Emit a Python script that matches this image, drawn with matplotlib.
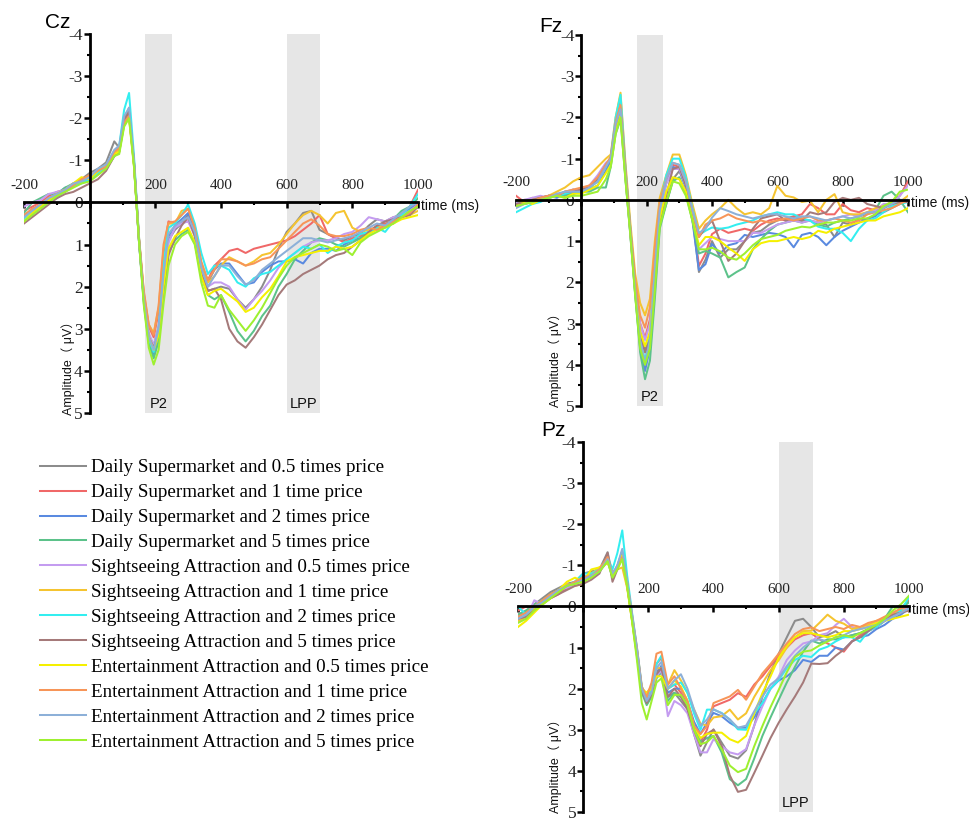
import matplotlib
matplotlib.use("Agg")
import matplotlib.pyplot as plt
from matplotlib.ticker import FixedLocator, FixedFormatter, MultipleLocator

plt.rcParams['axes.unicode_minus'] = False

# ---------------- data ----------------
times = [-200, -175, -150, -125, -100, -75, -50, -25, 0, 25, 50, 75,
         90, 105, 120, 135, 150, 165, 180, 195, 210, 225, 240,
         260, 280, 300, 320, 340, 360, 380, 400,
         425, 450, 475, 500, 525, 550, 575, 600, 625, 650, 675, 700,
         725, 750, 775, 800, 825, 850, 875, 900, 925, 950, 975, 1000]

labels = ["Daily Supermarket and 0.5 times price",
          "Daily Supermarket and 1 time price",
          "Daily Supermarket and 2 times price",
          "Daily Supermarket and 5 times price",
          "Sightseeing Attraction and 0.5 times price",
          "Sightseeing Attraction and 1 time price",
          "Sightseeing Attraction and 2 times price",
          "Sightseeing Attraction and 5 times price",
          "Entertainment Attraction and 0.5 times price",
          "Entertainment Attraction and 1 time price",
          "Entertainment Attraction and 2 times price",
          "Entertainment Attraction and 5 times price"]

colors = ['#8c8c8c', '#f06868', '#5a8ae0', '#5cc28a', '#c49cf0', '#f5c430',
          '#33eef0', '#a57a7a', '#f5f000', '#f79558', '#8db0d8', '#9ef030']

# ---- Cz ----
cz_ds05 = [0.35, 0.15, 0.1, -0.1, -0.2, -0.25, -0.4, -0.55, -0.7, -0.8, -0.95, -1.45,
           -1.3, -1.95, -2.25, -0.9, 0.9, 2.3, 3.15, 3.4, 2.95, 1.85, 0.9,
           0.65, 0.5, 0.3, 0.75, 1.55, 2.1, 2.05, 2.0,
           2.05, 2.3, 2.5, 2.3, 2.0, 1.6, 1.1, 0.7, 0.5, 0.25, 0.2, 0.65, 0.75, 0.85, 0.9, 0.8, 0.75, 0.55, 0.4, 0.45, 0.35, 0.3, 0.15, 0.05]
cz_ds1 = [0.2, 0.1, 0.0, -0.15, -0.25, -0.3, -0.45, -0.55, -0.6, -0.7, -0.85, -1.15,
          -1.25, -1.9, -2.05, -0.9, 0.85, 2.2, 2.95, 3.2, 2.6, 1.2, 0.45,
          0.5, 0.45, 0.45, 0.7, 1.5, 1.85, 1.5, 1.35,
          1.15, 1.1, 1.2, 1.1, 1.05, 1.0, 0.95, 0.9, 0.8, 0.65, 0.5, 0.3, 0.75, 0.85, 0.95, 0.85, 0.8, 0.7, 0.55, 0.5, 0.45, 0.3, 0.1, -0.3]
cz_ds2 = [0.3, 0.2, 0.1, -0.05, -0.2, -0.35, -0.4, -0.5, -0.55, -0.7, -0.8, -1.15,
          -1.25, -1.9, -2.1, -0.95, 0.9, 2.35, 3.3, 3.6, 3.1, 1.8, 0.8,
          0.55, 0.4, 0.25, 0.7, 1.5, 1.9, 1.6, 1.45,
          1.45, 1.7, 1.95, 1.9, 1.65, 1.5, 1.4, 1.4, 1.35, 1.45, 1.2, 1.1, 1.1, 1.15, 1.0, 0.9, 0.85, 0.75, 0.6, 0.55, 0.45, 0.25, 0.15, 0.0]
cz_ds5 = [0.25, 0.0, -0.1, -0.2, -0.2, -0.35, -0.45, -0.5, -0.6, -0.75, -0.8, -1.1,
          -1.2, -1.85, -2.05, -0.9, 0.9, 2.4, 3.35, 3.7, 3.3, 2.2, 1.2,
          0.9, 0.75, 0.65, 0.95, 1.75, 2.2, 2.3, 2.2,
          2.6, 3.05, 3.3, 3.05, 2.7, 2.45, 2.0, 1.7, 1.35, 1.15, 0.95, 0.85, 0.9, 1.0, 1.05, 0.95, 0.85, 0.7, 0.6, 0.55, 0.4, 0.2, 0.1, -0.1]
cz_sa05 = [0.1, 0.0, -0.05, -0.2, -0.25, -0.3, -0.45, -0.5, -0.6, -0.7, -0.85, -1.15,
           -1.3, -1.95, -2.1, -0.9, 0.9, 2.3, 3.1, 3.4, 2.95, 1.8, 0.95,
           0.6, 0.5, 0.45, 0.8, 1.6, 2.0, 1.9, 1.9,
           2.0, 2.3, 2.55, 2.3, 2.1, 1.85, 1.55, 1.35, 1.2, 1.05, 0.95, 0.9, 0.9, 0.85, 0.75, 0.7, 0.55, 0.35, 0.4, 0.45, 0.35, 0.3, 0.2, 0.05]
cz_sa1 = [0.35, 0.2, 0.05, -0.1, -0.2, -0.3, -0.4, -0.5, -0.6, -0.75, -0.85, -1.15,
          -1.25, -1.95, -2.1, -0.95, 0.85, 2.15, 2.9, 3.1, 2.5, 1.1, 0.5,
          0.5, 0.2, 0.15, 0.55, 1.45, 1.9, 1.75, 1.5,
          1.3, 1.4, 1.5, 1.4, 1.25, 1.2, 1.0, 0.75, 0.5, 0.3, 0.2, 0.3, 0.5, 0.25, 0.2, 0.6, 0.7, 0.65, 0.6, 0.55, 0.5, 0.35, 0.3, 0.2]
cz_sa2 = [0.4, 0.25, 0.1, -0.05, -0.1, -0.3, -0.4, -0.45, -0.55, -0.7, -0.85, -1.2,
          -1.35, -2.2, -2.6, -1.1, 0.8, 2.3, 3.25, 3.55, 3.0, 1.5, 0.6,
          0.5, 0.3, 0.05, 0.5, 1.2, 1.7, 1.5, 1.5,
          1.6, 1.9, 2.0, 1.8, 1.7, 1.65, 1.5, 1.35, 1.2, 1.05, 1.1, 1.0, 1.2, 1.05, 0.95, 0.9, 0.75, 0.7, 0.6, 0.7, 0.45, 0.3, 0.1, -0.2]
cz_sa5 = [0.5, 0.35, 0.2, 0.05, -0.1, -0.2, -0.25, -0.35, -0.45, -0.55, -0.75, -1.1,
          -1.2, -1.95, -2.15, -0.95, 0.85, 2.3, 3.2, 3.45, 3.1, 2.1, 1.25,
          0.85, 0.55, 0.35, 0.8, 1.7, 2.1, 2.05, 2.3,
          3.0, 3.3, 3.45, 3.2, 2.9, 2.55, 2.2, 1.95, 1.85, 1.7, 1.6, 1.5, 1.35, 1.25, 1.2, 1.05, 0.9, 0.7, 0.55, 0.45, 0.4, 0.35, 0.3, 0.1]
cz_ea05 = [0.45, 0.25, 0.1, -0.05, -0.2, -0.3, -0.45, -0.6, -0.55, -0.75, -0.9, -1.15,
           -1.2, -1.85, -2.0, -0.85, 0.85, 2.25, 3.2, 3.5, 3.15, 2.0, 1.1,
           0.8, 0.7, 0.6, 0.95, 1.75, 2.2, 2.1, 2.05,
           2.2, 2.35, 2.6, 2.5, 2.25, 2.05, 1.75, 1.4, 1.3, 1.25, 1.2, 1.15, 1.15, 1.05, 1.1, 1.05, 0.9, 0.75, 0.65, 0.6, 0.5, 0.4, 0.35, 0.3]
cz_ea1 = [0.3, 0.15, 0.05, -0.1, -0.2, -0.3, -0.4, -0.55, -0.65, -0.75, -0.85, -1.2,
          -1.3, -1.9, -2.05, -0.95, 0.8, 2.1, 2.9, 3.15, 2.45, 1.0, 0.48,
          0.45, 0.3, 0.15, 0.6, 1.4, 1.85, 1.6, 1.35,
          1.35, 1.4, 1.5, 1.45, 1.35, 1.3, 1.1, 0.9, 0.7, 0.5, 0.4, 0.55, 0.75, 0.8, 0.8, 0.75, 0.65, 0.6, 0.65, 0.55, 0.45, 0.35, 0.25, 0.05]
cz_ea2 = [0.35, 0.2, 0.05, -0.1, -0.2, -0.3, -0.45, -0.5, -0.6, -0.8, -0.9, -1.25,
          -1.35, -2.05, -2.25, -1.0, 0.85, 2.3, 3.2, 3.5, 3.0, 1.7, 0.75,
          0.55, 0.45, 0.35, 0.7, 1.55, 2.0, 1.75, 1.5,
          1.5, 1.75, 1.95, 1.85, 1.6, 1.45, 1.3, 1.15, 1.0, 0.85, 0.85, 0.9, 0.95, 0.9, 0.85, 0.8, 0.7, 0.6, 0.5, 0.55, 0.4, 0.25, 0.1, 0.0]
cz_ea5 = [0.45, 0.3, 0.15, 0.0, -0.15, -0.25, -0.35, -0.45, -0.5, -0.65, -0.8, -1.1,
          -1.15, -1.8, -2.0, -0.85, 0.9, 2.45, 3.45, 3.85, 3.5, 2.4, 1.5,
          1.0, 0.8, 0.7, 1.0, 1.9, 2.45, 2.5, 2.2,
          2.55, 2.8, 3.05, 2.8, 2.5, 2.15, 1.8, 1.5, 1.3, 1.2, 1.1, 1.0, 1.05, 1.15, 1.1, 1.25, 0.95, 0.8, 0.7, 0.6, 0.5, 0.35, 0.2, 0.1]

# ---- Fz ----
fz_ds05 = [0.1, 0.0, 0.0, -0.05, -0.1, -0.1, -0.15, -0.25, -0.2, -0.3, -0.45, -0.8,
           -0.9, -1.8, -2.25, -0.7, 0.75, 2.1, 3.2, 3.65, 3.35, 2.0, 0.6,
           0.1, -0.5, -0.7, -0.3, 0.4, 1.75, 1.45, 1.0,
           1.4, 1.2, 1.2, 1.0, 0.8, 0.75, 0.6, 0.5, 0.45, 0.4, 0.5, 0.5, 0.55, 0.6, 0.9, 0.55, 0.6, 0.45, 0.5, 0.35, 0.3, 0.2, 0.1, 0.0]
fz_ds1 = [-0.1, 0.05, -0.05, 0.0, -0.05, -0.15, -0.1, -0.2, -0.25, -0.35, -0.5, -0.8,
          -1.0, -1.9, -2.4, -0.75, 0.7, 2.0, 3.0, 3.35, 2.9, 1.5, 0.2,
          -0.45, -0.85, -0.8, -0.35, 0.35, 1.6, 1.3, 0.83,
          0.7, 0.8, 0.75, 0.7, 0.75, 0.6, 0.5, 0.45, 0.5, 0.4, 0.35, 0.1, 0.2, 0.35, 0.35, 0.1, 0.25, 0.3, 0.2, 0.25, 0.15, 0.05, -0.1, -0.45]
fz_ds2 = [0.05, 0.1, 0.0, -0.05, -0.1, -0.05, -0.15, -0.15, -0.2, -0.25, -0.35, -0.7,
          -0.95, -1.7, -2.1, -0.55, 0.85, 2.3, 3.55, 4.15, 3.6, 1.9, 0.35,
          -0.4, -0.8, -0.75, -0.3, 0.5, 1.7, 1.56, 1.07,
          1.3, 1.1, 1.05, 0.85, 0.9, 0.85, 0.8, 0.83, 0.9, 1.15, 0.85, 0.8, 0.9, 1.1, 0.9, 0.75, 0.65, 0.55, 0.45, 0.4, 0.2, 0.1, 0.05, 0.0]
fz_ds5 = [0.0, 0.1, 0.05, 0.0, -0.05, -0.1, -0.1, -0.15, -0.2, -0.2, -0.3, -0.3,
          -0.8, -1.6, -1.95, -0.5, 0.8, 2.3, 3.7, 4.35, 3.9, 2.4, 0.7,
          0.1, -0.45, -0.55, -0.15, 0.5, 1.3, 1.24, 1.3,
          1.4, 1.88, 1.75, 1.64, 1.2, 0.95, 0.75, 0.6, 0.55, 0.5, 0.55, 0.5, 0.6, 0.65, 0.55, 0.5, 0.45, 0.4, 0.35, 0.25, -0.1, -0.2, 0.0, 0.3]
fz_sa05 = [0.05, 0.0, -0.05, -0.1, -0.05, -0.1, -0.2, -0.25, -0.2, -0.35, -0.6, -0.9,
           -1.0, -1.8, -2.3, -0.7, 0.75, 2.1, 3.0, 3.4, 3.0, 1.6, 0.3,
           -0.4, -0.75, -0.75, -0.35, 0.4, 1.2, 1.05, 0.9,
           0.95, 1.0, 1.0, 1.0, 0.8, 0.8, 0.7, 0.6, 0.55, 0.5, 0.55, 0.5, 0.55, 0.5, 0.45, 0.4, 0.35, 0.4, 0.3, 0.25, 0.1, 0.1, -0.1, -0.35]
fz_sa1 = [0.15, 0.05, 0.0, -0.05, -0.1, -0.2, -0.3, -0.45, -0.55, -0.6, -0.8, -1.0,
          -1.1, -2.0, -2.6, -0.9, 0.55, 1.8, 2.5, 2.8, 2.4, 1.0, -0.05,
          -0.6, -1.1, -1.1, -0.6, 0.1, 0.7, 0.5, 0.35,
          0.2, 0.0, 0.2, 0.35, 0.3, 0.35, 0.2, -0.34, -0.1, -0.06, 0.05, 0.02, 0.3, 0.0, -0.14, 0.3, 0.35, 0.35, 0.3, 0.2, 0.15, 0.1, 0.05, -0.1]
fz_sa2 = [0.3, 0.2, 0.1, 0.05, -0.05, -0.1, -0.15, -0.2, -0.2, -0.3, -0.45, -0.8,
          -1.05, -2.0, -2.55, -0.8, 0.7, 2.1, 3.4, 3.9, 3.3, 1.5, 0.1,
          -0.6, -1.0, -1.0, -0.55, 0.2, 0.85, 0.75, 0.67,
          0.7, 0.67, 0.6, 0.55, 0.5, 0.4, 0.35, 0.3, 0.35, 0.35, 0.45, 0.5, 0.65, 0.7, 0.7, 0.8, 1.0, 0.7, 0.5, 0.45, 0.3, 0.15, 0.1, 0.05]
fz_sa5 = [0.1, 0.05, 0.0, -0.05, -0.1, -0.1, -0.2, -0.2, -0.25, -0.3, -0.5, -0.85,
          -1.0, -1.85, -2.2, -0.65, 0.75, 2.1, 3.25, 3.7, 3.4, 2.0, 0.5,
          -0.1, -0.75, -0.8, -0.35, 0.4, 0.9, 0.68, 0.5,
          1.0, 1.48, 1.3, 1.0, 0.7, 0.45, 0.4, 0.35, 0.5, 0.45, 0.5, 0.3, 0.35, 0.3, 0.05, -0.05, 0.0, -0.05, 0.1, 0.15, 0.2, 0.1, 0.05, 0.05]
fz_ea05 = [0.0, 0.05, 0.1, 0.0, -0.05, -0.1, -0.05, -0.15, -0.15, -0.25, -0.35, -0.65,
           -0.85, -1.65, -2.05, -0.55, 0.8, 2.2, 3.2, 3.55, 3.2, 1.8, 0.45,
           -0.2, -0.55, -0.5, -0.2, 0.45, 1.1, 0.9, 0.9,
           1.0, 1.16, 1.3, 1.48, 1.2, 1.05, 1.0, 1.0, 0.95, 0.9, 0.95, 0.9, 0.75, 0.8, 0.7, 0.65, 0.6, 0.55, 0.5, 0.5, 0.4, 0.35, 0.3, 0.2]
fz_ea1 = [0.15, 0.1, 0.05, -0.05, -0.1, -0.1, -0.2, -0.25, -0.3, -0.35, -0.55, -0.85,
          -1.05, -1.9, -2.3, -0.75, 0.7, 1.95, 2.8, 3.1, 2.6, 1.15, 0.05,
          -0.5, -0.9, -0.85, -0.45, 0.25, 0.9, 0.6, 0.5,
          0.45, 0.35, 0.45, 0.5, 0.55, 0.5, 0.55, 0.5, 0.45, 0.5, 0.45, 0.4, 0.5, 0.5, 0.45, 0.5, 0.55, 0.5, 0.35, 0.3, 0.25, 0.2, 0.1, 0.0]
fz_ea2 = [0.2, 0.1, 0.05, 0.0, -0.05, -0.15, -0.2, -0.2, -0.2, -0.3, -0.45, -0.8,
          -1.0, -1.85, -2.2, -0.6, 0.8, 2.2, 3.4, 3.95, 3.4, 1.7, 0.25,
          -0.5, -0.9, -0.85, -0.45, 0.25, 0.8, 0.7, 0.43,
          0.2, 0.27, 0.35, 0.4, 0.45, 0.4, 0.35, 0.35, 0.4, 0.45, 0.4, 0.4, 0.45, 0.5, 0.45, 0.4, 0.45, 0.4, 0.3, 0.3, 0.2, 0.1, 0.0, 0.0]
fz_ea5 = [0.15, 0.1, 0.05, 0.0, -0.05, -0.1, -0.05, -0.1, -0.1, -0.15, -0.2, -0.5,
          -0.8, -1.6, -2.0, -0.5, 0.85, 2.35, 3.6, 4.0, 3.6, 2.2, 0.65,
          0.05, -0.45, -0.4, -0.1, 0.5, 1.2, 1.2, 1.16,
          1.25, 1.4, 1.45, 1.3, 1.1, 0.95, 0.9, 0.85, 0.75, 0.7, 0.65, 0.67, 0.6, 0.55, 0.55, 0.5, 0.5, 0.45, 0.45, 0.35, 0.15, 0.05, -0.2, -0.25]

# ---- Pz ----
pz_ds05 = [0.2, 0.1, -0.05, -0.2, -0.35, -0.45, -0.55, -0.6, -0.8, -0.85, -0.9, -1.32,
           -0.75, -1.0, -1.35, -0.55, 0.3, 1.15, 2.05, 2.3, 2.15, 1.6, 1.45,
           2.2, 2.1, 2.3, 2.5, 3.1, 3.63, 3.3, 2.99,
           3.31, 3.63, 3.7, 3.5, 2.9, 2.2, 1.6, 1.15, 0.75, 0.35, 0.3, 0.5, 0.75, 0.7, 0.6, 0.75, 0.7, 0.65, 0.55, 0.5, 0.35, 0.2, 0.15, 0.05]
pz_ds1 = [0.1, 0.0, 0.05, -0.15, -0.2, -0.3, -0.45, -0.6, -0.75, -0.7, -0.85, -1.15,
          -0.75, -0.95, -1.2, -0.5, 0.3, 1.1, 2.0, 2.25, 2.0, 1.4, 1.25,
          2.0, 1.9, 2.1, 2.4, 3.0, 3.3, 3.0, 2.43,
          2.35, 2.27, 2.11, 2.2, 1.9, 1.7, 1.45, 1.2, 1.0, 0.8, 0.7, 0.65, 0.8, 0.9, 1.0, 1.1, 0.85, 0.7, 0.6, 0.5, 0.35, 0.2, 0.05, -0.15]
pz_ds2 = [0.25, 0.15, 0.05, -0.1, -0.25, -0.35, -0.5, -0.55, -0.7, -0.8, -0.85, -1.2,
          -0.8, -0.95, -1.25, -0.55, 0.25, 1.05, 2.0, 2.35, 2.2, 1.65, 1.45,
          2.1, 2.0, 2.0, 2.3, 2.8, 3.1, 2.83, 2.59,
          2.67, 2.83, 2.95, 2.95, 2.7, 2.35, 2.0, 1.8, 1.7, 1.55, 1.3, 1.35, 1.2, 1.2, 1.0, 1.05, 0.85, 0.75, 0.7, 0.55, 0.45, 0.3, 0.2, 0.05]
pz_ds5 = [0.2, 0.1, -0.05, -0.15, -0.3, -0.4, -0.5, -0.6, -0.65, -0.75, -0.85, -1.1,
          -0.7, -0.95, -1.2, -0.5, 0.3, 1.15, 2.1, 2.4, 2.2, 1.75, 1.6,
          2.3, 2.1, 2.2, 2.4, 2.9, 3.3, 3.2, 3.15,
          3.55, 4.2, 4.35, 4.2, 3.7, 3.15, 2.7, 2.27, 1.85, 1.47, 1.1, 0.83, 0.9, 0.8, 0.8, 0.75, 0.7, 0.65, 0.55, 0.45, 0.3, 0.0, 0.05, -0.1]
pz_sa05 = [0.35, 0.3, -0.15, -0.05, -0.25, -0.4, -0.45, -0.55, -0.7, -0.8, -0.9, -1.1,
           -0.75, -0.95, -1.2, -0.5, 0.25, 1.05, 2.0, 2.3, 2.1, 1.7, 1.55,
           2.67, 2.3, 2.4, 2.6, 3.1, 3.55, 3.55, 3.23,
           3.39, 3.55, 3.6, 3.47, 2.9, 2.43, 2.0, 1.71, 1.3, 1.07, 0.9, 0.85, 0.7, 0.65, 0.45, 0.3, 0.5, 0.55, 0.5, 0.4, 0.3, 0.2, 0.1, 0.0]
pz_sa1 = [0.35, 0.25, 0.05, -0.1, -0.2, -0.35, -0.55, -0.5, -0.55, -0.8, -0.95, -1.05,
          -0.85, -0.9, -0.95, -0.45, 0.35, 1.2, 2.05, 2.1, 1.95, 1.5, 1.5,
          1.9, 1.55, 1.8, 2.1, 2.5, 2.85, 2.9, 2.7,
          2.67, 2.51, 2.75, 2.6, 2.2, 1.87, 1.55, 1.31, 1.0, 0.75, 0.6, 0.59, 0.4, 0.2, 0.35, 0.42, 0.55, 0.5, 0.45, 0.35, 0.3, 0.2, 0.1, 0.1]
pz_sa2 = [0.0, 0.2, 0.0, -0.15, -0.25, -0.4, -0.5, -0.6, -0.8, -0.8, -0.9, -1.2,
          -0.9, -1.3, -1.85, -0.75, 0.15, 1.0, 1.95, 2.2, 2.0, 1.4, 1.2,
          2.0, 1.9, 1.85, 2.1, 2.6, 3.0, 2.51, 2.51,
          2.59, 2.75, 2.99, 3.0, 2.6, 2.35, 2.0, 1.79, 1.5, 1.3, 1.2, 1.23, 1.05, 0.98, 0.85, 0.75, 0.75, 0.86, 0.6, 0.5, 0.35, 0.25, 0.1, -0.22]
pz_sa5 = [0.3, 0.25, 0.1, -0.05, -0.2, -0.3, -0.4, -0.5, -0.55, -0.65, -0.8, -1.3,
          -0.6, -0.9, -1.3, -0.55, 0.3, 1.1, 2.05, 2.35, 2.15, 1.65, 1.5,
          2.2, 2.0, 2.2, 2.5, 3.0, 3.4, 3.1, 3.0,
          3.39, 4.11, 4.51, 4.46, 4.05, 3.63, 3.2, 2.83, 2.5, 2.19, 1.85, 1.39, 1.4, 1.38, 1.2, 1.05, 0.85, 0.75, 0.6, 0.45, 0.35, 0.2, 0.15, 0.1]
pz_ea05 = [0.5, 0.35, 0.15, -0.05, -0.2, -0.4, -0.6, -0.7, -0.6, -0.9, -0.95, -1.1,
           -0.75, -0.95, -1.25, -0.5, 0.35, 1.2, 2.0, 2.1, 2.0, 1.7, 1.7,
           2.0, 1.8, 1.95, 2.3, 2.9, 3.2, 3.1, 3.07,
           3.07, 3.23, 3.31, 3.15, 2.6, 2.11, 1.7, 1.25, 0.95, 0.75, 0.65, 0.65, 0.7, 0.75, 0.7, 0.6, 0.6, 0.55, 0.5, 0.4, 0.35, 0.3, 0.25, 0.2]
pz_ea1 = [0.25, 0.15, 0.0, -0.15, -0.3, -0.4, -0.5, -0.6, -0.7, -0.75, -0.9, -1.2,
          -0.8, -0.95, -1.2, -0.6, 0.2, 1.0, 1.95, 2.2, 1.85, 1.15, 1.1,
          1.9, 1.7, 2.0, 2.3, 2.9, 3.1, 2.91, 2.35,
          2.27, 2.19, 2.03, 2.27, 1.95, 1.63, 1.4, 1.15, 0.9, 0.67, 0.55, 0.51, 0.6, 0.55, 0.5, 0.55, 0.45, 0.5, 0.4, 0.35, 0.25, 0.15, 0.05, 0.0]
pz_ea2 = [0.3, 0.2, 0.0, -0.1, -0.25, -0.4, -0.5, -0.55, -0.65, -0.75, -0.85, -1.15,
          -0.8, -1.0, -1.4, -0.6, 0.2, 1.05, 2.0, 2.3, 2.1, 1.5, 1.35,
          2.0, 1.8, 1.65, 2.0, 2.5, 2.9, 2.75, 2.5,
          2.6, 2.75, 2.95, 2.9, 2.55, 2.2, 1.9, 1.75, 1.45, 1.2, 1.0, 0.85, 0.8, 0.85, 0.75, 0.7, 0.6, 0.55, 0.5, 0.45, 0.35, 0.25, 0.15, 0.05]
pz_ea5 = [0.4, 0.3, 0.1, -0.05, -0.2, -0.35, -0.5, -0.55, -0.6, -0.7, -0.85, -1.1,
          -0.7, -0.9, -1.15, -0.5, 0.35, 1.3, 2.35, 2.75, 2.3, 1.85, 1.75,
          2.4, 2.15, 2.15, 2.4, 3.0, 3.35, 3.3, 3.15,
          3.47, 3.87, 4.03, 3.95, 3.4, 2.91, 2.45, 2.03, 1.6, 1.23, 1.1, 1.07, 0.95, 0.85, 0.75, 0.7, 0.75, 0.65, 0.55, 0.45, 0.3, 0.1, -0.05, -0.26]

cz_series = [cz_ds05, cz_ds1, cz_ds2, cz_ds5, cz_sa05, cz_sa1, cz_sa2, cz_sa5,
             cz_ea05, cz_ea1, cz_ea2, cz_ea5]
fz_series = [fz_ds05, fz_ds1, fz_ds2, fz_ds5, fz_sa05, fz_sa1, fz_sa2, fz_sa5,
             fz_ea05, fz_ea1, fz_ea2, fz_ea5]
pz_series = [pz_ds05, pz_ds1, pz_ds2, pz_ds5, pz_sa05, pz_sa1, pz_sa2, pz_sa5,
             pz_ea05, pz_ea1, pz_ea2, pz_ea5]

x_major = [-200, 0, 200, 400, 600, 800, 1000]
x_major_labels = ['-200', '', '200', '400', '600', '800', '1000']
y_major = [-4, -3, -2, -1, 0, 1, 2, 3, 4, 5]
y_major_labels = ['-4', '-3', '-2', '-1', '0', '1', '2', '3', '4', '5']

# ---------------- figure ----------------
W, H = 970, 821
fig = plt.figure(figsize=(W / 100, H / 100), dpi=100)

SERIF = 'Liberation Serif'
SANS = 'Liberation Sans'


def px_axes(left, right, top, bottom):
    return fig.add_axes([left / W, 1 - bottom / H, (right - left) / W, (bottom - top) / H])


def setup(ax, series, bands):
    ax.patch.set_alpha(0)
    for (x0, x1, txt) in bands:
        ax.axvspan(x0, x1, color='#e6e6e6', lw=0, zorder=0)
        ax.text((x0 + x1) / 2, 4.78, txt, ha='center', va='center',
                fontsize=10.5, family=SANS, color='#111111', zorder=1)
    lines = []
    for vals, col in zip(series, colors):
        ln, = ax.plot(times, vals, color=col, lw=1.45, zorder=2, solid_joinstyle='round')
        lines.append(ln)
    ax.set_xlim(-200, 1000)
    ax.set_ylim(5, -4)
    for s in ['right', 'bottom']:
        ax.spines[s].set_visible(False)
    ax.spines['left'].set_position(('data', 0))
    ax.spines['top'].set_position(('data', 0))
    ax.spines['left'].set_linewidth(2.0)
    ax.spines['top'].set_linewidth(2.0)
    ax.spines['left'].set_zorder(3)
    ax.spines['top'].set_zorder(3)
    ax.xaxis.set_ticks_position('top')
    ax.xaxis.set_major_locator(FixedLocator(x_major))
    ax.xaxis.set_major_formatter(FixedFormatter(x_major_labels))
    ax.xaxis.set_minor_locator(MultipleLocator(100))
    ax.tick_params(axis='x', which='both', direction='in', top=True, bottom=False,
                   labeltop=True, labelbottom=False, pad=7.5, labelsize=11,
                   labelcolor='#222222', labelfontfamily=SERIF)
    ax.tick_params(axis='x', which='major', length=4.5, width=1.8)
    ax.tick_params(axis='x', which='minor', length=2.5, width=1.5)
    ax.yaxis.set_major_locator(FixedLocator(y_major))
    ax.yaxis.set_major_formatter(FixedFormatter(y_major_labels))
    ax.yaxis.set_minor_locator(MultipleLocator(0.5))
    ax.tick_params(axis='y', which='both', direction='out', left=True, right=False,
                   labelsize=12.5, labelcolor='#222222', labelfontfamily=SERIF)
    ax.tick_params(axis='y', which='major', length=4.5, width=1.8, pad=0.5)
    ax.tick_params(axis='y', which='minor', length=2.5, width=1.5)
    ax.text(1008, 0.08, 'time (ms)', ha='left', va='center', fontsize=10,
            family=SANS, color='#111111', clip_on=False)
    return lines


ax_cz = px_axes(24, 418, 34, 413)
cz_lines = setup(ax_cz, cz_series, [(170, 250, 'P2'), (600, 700, 'LPP')])
ax_fz = px_axes(516, 908, 35, 406)
setup(ax_fz, fz_series, [(170, 250, 'P2')])
ax_pz = px_axes(518, 909, 442, 812)
setup(ax_pz, pz_series, [(600, 705, 'LPP')])

# titles
for (xp, yp, t) in [(45, 28, 'Cz'), (539, 32, 'Fz'), (541, 436, 'Pz')]:
    fig.text(xp / W, 1 - yp / H, t, ha='left', va='baseline', fontsize=15,
             family=SANS, color='black')

# y labels
for (xp, yp) in [(68, 415), (555, 407), (555, 813)]:
    fig.text(xp / W, 1 - yp / H, 'Amplitude（ μV）', rotation=90, ha='center',
             va='bottom', fontsize=9, family=[SANS, 'Noto Sans CJK SC'], color='#111111')

# legend
fig.legend(cz_lines, labels, loc='upper left', bbox_to_anchor=(40 / W, 1 - 459 / H),
           frameon=False, prop={'family': SERIF, 'size': 13.7}, handlelength=2.4,
           handletextpad=0.3, labelspacing=0.4, borderpad=0, borderaxespad=0)

fig.savefig('out.png', dpi=100)
